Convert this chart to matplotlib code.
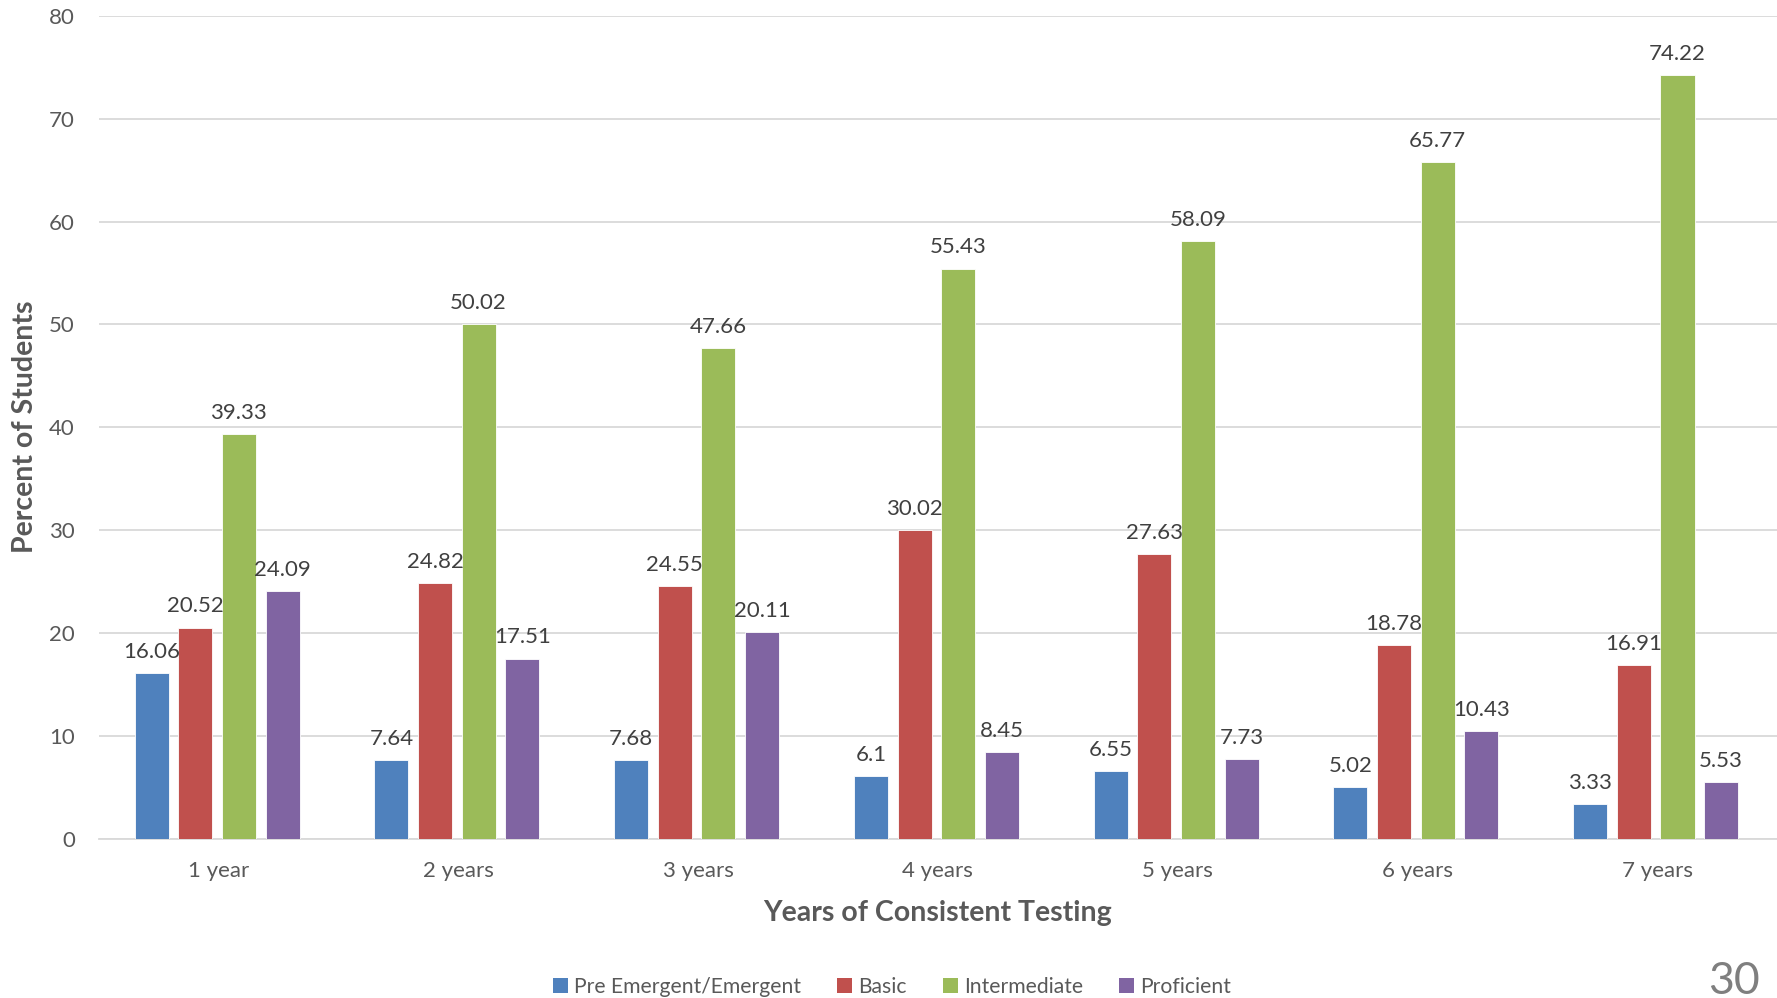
import matplotlib
matplotlib.use("Agg")
import matplotlib.pyplot as plt
import numpy as np
from matplotlib.patches import Patch

plt.rcParams['font.family'] = ['Lato', 'DejaVu Sans']

categories = ["1 year", "2 years", "3 years", "4 years", "5 years", "6 years", "7 years"]
series_names = ["Pre Emergent/Emergent", "Basic", "Intermediate", "Proficient"]
pre_emergent = [16.06, 7.64, 7.68, 6.1, 6.55, 5.02, 3.33]
basic = [20.52, 24.82, 24.55, 30.02, 27.63, 18.78, 16.91]
intermediate = [39.33, 50.02, 47.66, 55.43, 58.09, 65.77, 74.22]
proficient = [24.09, 17.51, 20.11, 8.45, 7.73, 10.43, 5.53]
colors = ["#4F81BD", "#C0504D", "#9BBB59", "#8064A2"]

text_color = "#595959"
fig = plt.figure(figsize=(17.77, 9.98), dpi=100)
ax = fig.add_axes([0.0555, 0.1597, 0.9445, 0.8244])

x = np.arange(len(categories))
width = 0.142
step = 0.182
all_series = [pre_emergent, basic, intermediate, proficient]
for i, (vals, c, name) in enumerate(zip(all_series, colors, series_names)):
    pos = x + (i - 1.5) * step - 0.006
    bars = ax.bar(pos, vals, width=width, color=c, edgecolor="white", linewidth=0.6, zorder=3, label=name)
    for b, v in zip(bars, vals):
        ax.annotate(f"{v:g}", (b.get_x() + b.get_width() / 2, v), xytext=(0, 8),
                    textcoords="offset points", ha="center", va="bottom",
                    fontsize=16, color="#404040", zorder=4)

ax.set_xlim(-0.5, len(categories) - 0.5)
ax.set_ylim(0, 80)
ax.set_yticks(np.arange(0, 81, 10))
ax.set_xticks(x)
ax.set_xticklabels(categories)
ax.tick_params(axis="both", length=0, labelsize=16, colors=text_color)
ax.tick_params(axis="y", pad=17)
ax.tick_params(axis="x", pad=16)
ax.yaxis.grid(True, color="#D9D9D9", linewidth=1.3, zorder=0)
for s in ["top", "right", "left"]:
    ax.spines[s].set_visible(False)
ax.spines["bottom"].set_color("#D9D9D9")
ax.spines["bottom"].set_linewidth(1.3)

ax.set_xlabel("Years of Consistent Testing", fontsize=20.5, fontweight="bold", color=text_color, labelpad=14)
fig.text(0.014, 0.572, "Percent of Students", rotation=90, fontsize=20.5, fontweight="bold",
         color=text_color, ha="center", va="center")

handles = [Patch(facecolor=c, edgecolor="none") for c in colors]
fig.legend(handles, series_names, loc="center", bbox_to_anchor=(0.502, 0.011), ncol=4,
           frameon=False, fontsize=15.2, labelcolor=text_color, handlelength=0.7, handleheight=0.7,
           handletextpad=0.3, columnspacing=1.7)

fig.text(0.976, 0.017, "30", fontsize=32, color="#7F7F7F", ha="center", va="center")

fig.savefig("out.png", dpi=100)
